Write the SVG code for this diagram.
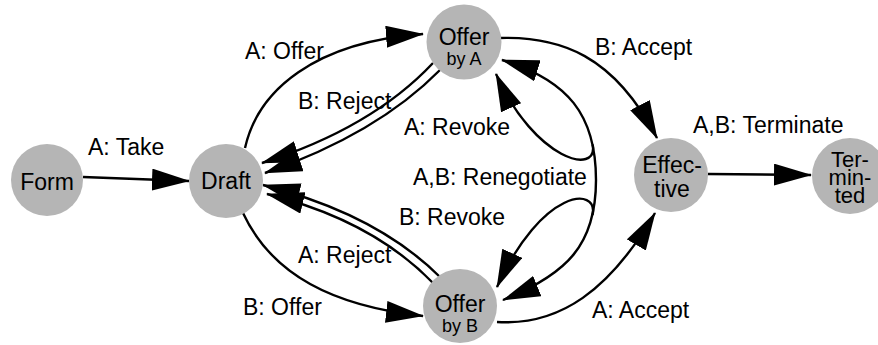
<svg xmlns="http://www.w3.org/2000/svg" width="878" height="345" viewBox="0 0 878 345">
  <style>
    .node circle { fill: #b5b5b5; }
    .node text { font-family: "Liberation Sans", Arial, sans-serif; font-size: 23px; fill: #000; text-anchor: middle; }
    .node text.sub { font-size: 18px; }
    .node text.tight { font-size: 22px; }
    .edge { fill: none; stroke: #000; stroke-width: 2.4; marker-end: url(#arrow); }
    .label { font-family: "Liberation Sans", Arial, sans-serif; font-size: 23px; fill: #000; }
  </style>
  <defs>
    <marker id="arrow" markerUnits="userSpaceOnUse" viewBox="0 0 38 22" markerWidth="38" markerHeight="22" refX="37" refY="11" orient="auto">
      <path d="M0,0 L38,11 L0,22 z" fill="#000"/>
    </marker>
  </defs>

  <rect width="878" height="345" fill="#fff"/>

  <!-- transitions -->
  <g id="connectors">
    <!-- A: Take -->
    <path class="edge" d="M83,177 L189,181"/>
    <!-- A: Offer -->
    <path class="edge" d="M245,148 C258,90 315,42 423,34"/>
    <!-- B: Reject / A: Revoke (double line back to Draft) -->
    <path class="edge" d="M433,63 Q372,128 262,163"/>
    <path class="edge" d="M440,70 Q377,134 265,173"/>
    <!-- B: Revoke / A: Reject (double line back to Draft) -->
    <path class="edge" d="M440,277 Q377,214 263,185"/>
    <path class="edge" d="M433,283 Q372,220 267,194"/>
    <!-- B: Offer -->
    <path class="edge" d="M243,213 C272,275 333,306 423,316"/>
    <!-- B: Accept -->
    <path class="edge" d="M499,38 C560,36 614,55 657,138"/>
    <!-- A: Accept -->
    <path class="edge" d="M497,322 C560,326 610,290 655,213"/>
    <!-- A,B: Terminate -->
    <path class="edge" d="M708,174 L811,175"/>
    <!-- A,B: Renegotiate (outer arc to both offers) -->
    <path class="edge" d="M596,180 C596,115 568,80 502,60"/>
    <path class="edge" d="M596,180 C596,245 567,274 503,300"/>
    <!-- A,B: Renegotiate (inner loops peeling off the outer arc) -->
    <path class="edge" d="M592.6,144.5 C599,176 535,161 496,74"/>
    <path class="edge" d="M592.5,215 C599,186 542,188 497,287"/>
  </g>

  <!-- transition labels -->
  <g id="labels">
    <text class="label" x="88" y="155">A: Take</text>
    <text class="label" x="245" y="59">A: Offer</text>
    <text class="label" x="298" y="109">B: Reject</text>
    <text class="label" x="404" y="135">A: Revoke</text>
    <text class="label" x="413" y="185">A,B: Renegotiate</text>
    <text class="label" x="399" y="225">B: Revoke</text>
    <text class="label" x="298" y="263">A: Reject</text>
    <text class="label" x="243" y="315">B: Offer</text>
    <text class="label" x="595" y="55">B: Accept</text>
    <text class="label" x="693" y="133">A,B: Terminate</text>
    <text class="label" x="592" y="318">A: Accept</text>
  </g>

  <!-- states -->
  <g id="form" class="node">
    <circle cx="47" cy="180" r="36"/>
    <text x="47" y="190">Form</text>
  </g>
  <g id="draft" class="node">
    <circle cx="226" cy="181" r="37"/>
    <text x="226" y="189">Draft</text>
  </g>
  <g id="offer-a" class="node">
    <circle cx="464" cy="42" r="37.5"/>
    <text x="464" y="45">Offer</text>
    <text class="sub" x="464" y="65">by A</text>
  </g>
  <g id="offer-b" class="node">
    <circle cx="460" cy="306" r="37"/>
    <text x="460" y="312">Offer</text>
    <text class="sub" x="460" y="332">by B</text>
  </g>
  <g id="effective" class="node">
    <circle cx="671" cy="175" r="37"/>
    <text x="672" y="173">Effec-</text>
    <text x="672" y="197">tive</text>
  </g>
  <g id="terminated" class="node">
    <circle cx="850" cy="176" r="38"/>
    <text class="tight" x="850" y="167">Ter-</text>
    <text class="tight" x="850" y="185">min-</text>
    <text class="tight" x="850" y="203">ted</text>
  </g>
</svg>
